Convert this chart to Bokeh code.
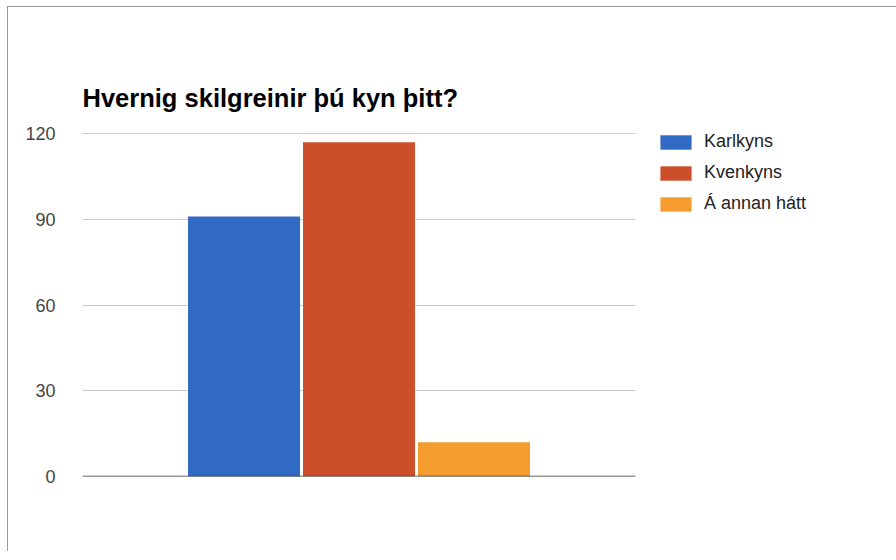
from bokeh.plotting import figure
from bokeh.models import Range1d, Legend, LegendItem, FixedTicker, Span, ColumnDataSource
from bokeh.embed import file_html
from bokeh.resources import INLINE

# Data
title_text = "Hvernig skilgreinir þú kyn þitt?"
series = ["Karlkyns", "Kvenkyns", "Á annan hátt"]
counts = [91, 117, 12]
colors = ["#316ac5", "#cc4e2b", "#f49c2f"]
y_ticks = [0, 30, 60, 90, 120]

FONT = "Liberation Sans"

p = figure(width=880, height=544, output_backend="svg", toolbar_location=None,
           x_range=Range1d(-2.405, 2.405), y_range=Range1d(0, 120.4),
           frame_width=553, frame_height=344,
           min_border_left=74, min_border_right=253, min_border_top=125, min_border_bottom=75,
           title=title_text,
           styles={"margin-left": "7px", "margin-top": "6px",
                   "border-top": "1px solid #9a9a9a", "border-left": "1px solid #9a9a9a"})

p.outline_line_color = None
p.background_fill_color = "white"
p.border_fill_color = "white"

p.title.text_font = FONT
p.title.text_font_size = "25.5px"
p.title.text_font_style = "bold"
p.title.text_color = "#000000"
p.title.align = "left"
p.title.standoff = 41

items = []
for i, (name, val, col) in enumerate(zip(series, counts, colors)):
    src = ColumnDataSource(dict(x=[i - 1], top=[val]))
    r = p.vbar(x="x", top="top", bottom=0, width=0.974, source=src,
               fill_color=col, line_color=None)
    items.append(LegendItem(label=name, renderers=[r]))

# axes
p.xaxis.visible = False
p.yaxis.ticker = FixedTicker(ticks=y_ticks)
p.yaxis.axis_line_color = None
p.yaxis.major_tick_line_color = None
p.yaxis.minor_tick_line_color = None
p.yaxis.major_label_standoff = 21
p.yaxis.major_label_text_font = FONT
p.yaxis.major_label_text_font_size = "18px"
p.yaxis.major_label_text_color = "#444444"

p.xgrid.grid_line_color = None
p.ygrid.ticker = FixedTicker(ticks=y_ticks[1:])
p.ygrid.grid_line_color = "#cccccc"
p.ygrid.grid_line_width = 1

base = Span(location=0, dimension="width", line_color="#333333", line_width=1.5)
p.add_layout(base)

legend = Legend(items=items, location=(21, 262), orientation="vertical",
                glyph_width=39, glyph_height=18, label_height=18, spacing=10,
                label_standoff=9, padding=0, margin=0,
                label_text_font=FONT, label_text_font_size="18px",
                label_text_color="#222222",
                border_line_color=None, background_fill_alpha=0)
p.add_layout(legend, "right")

open("out.html", "w").write(file_html(p, INLINE))
